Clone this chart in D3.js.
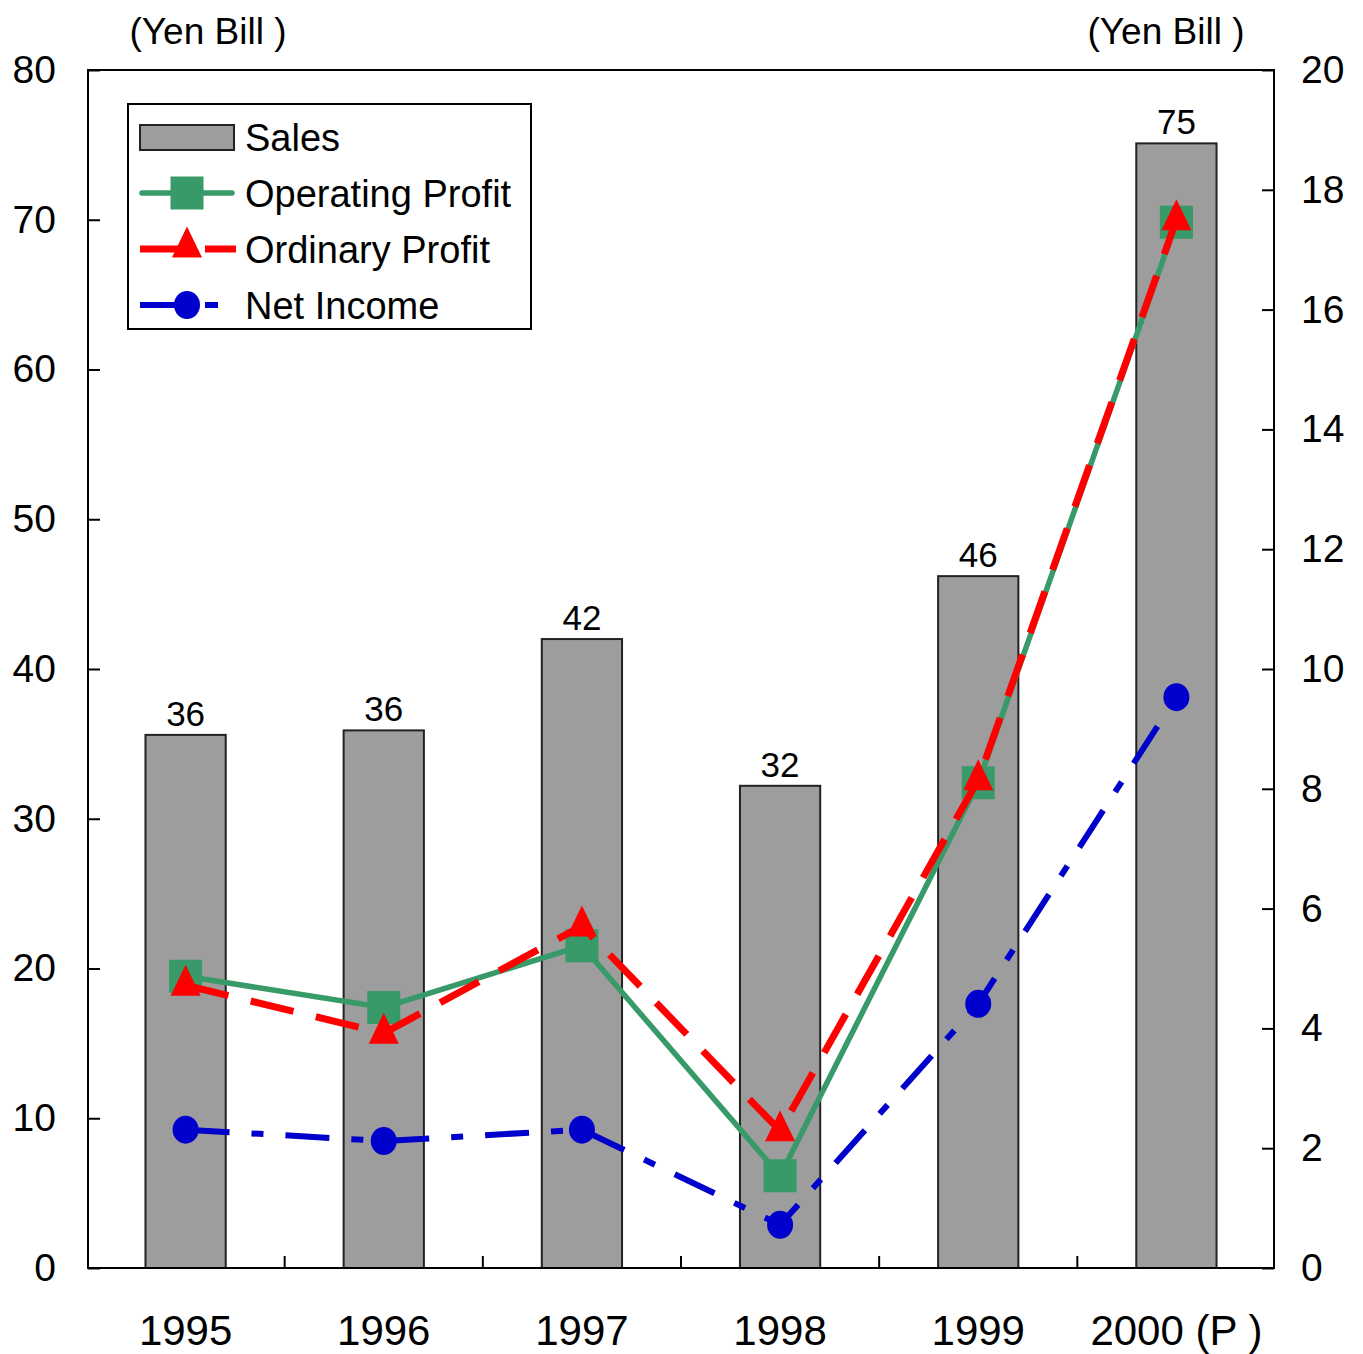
<!DOCTYPE html>
<html>
<head>
<meta charset="utf-8">
<script src="https://cdn.jsdelivr.net/npm/d3@7"></script>
<style>
  body { margin: 0; background: #fff; }
  svg { font-family: "Liberation Sans", Arial, sans-serif; }
  .axis path, .axis line { stroke: #000; stroke-width: 2; }
  .axis .domain { display: none; }
</style>
</head>
<body>
<svg width="1363" height="1354"></svg>
<script>
// values
var years = ["1995", "1996", "1997", "1998", "1999", "2000 (P )"];
var sales = [35.6, 35.9, 42.0, 32.2, 46.2, 75.1];          // left axis
var operatingProfit = [4.87, 4.35, 5.38, 1.54, 8.10, 17.46]; // right axis
var ordinaryProfit = [4.72, 3.92, 5.71, 2.29, 8.15, 17.5];
var netIncome = [2.31, 2.12, 2.31, 0.72, 4.41, 9.53];
var leftTicks = [0, 10, 20, 30, 40, 50, 60, 70, 80];
var rightTicks = [0, 2, 4, 6, 8, 10, 12, 14, 16, 18, 20];

var svg = d3.select("svg");
// plot box (note: "top" is taken by window.top)
var plotLeft = 88, plotRight = 1274, plotTop = 70, plotBottom = 1268;

var x = d3.scaleBand()
    .domain(years)
    .range([plotLeft, plotRight])
    .paddingInner(0.595)
    .paddingOuter(0.29);
var yL = d3.scaleLinear().domain([0, 80]).range([plotBottom, plotTop]);
var yR = d3.scaleLinear().domain([0, 20]).range([plotBottom, plotTop]);

var series = [
    {name: "Operating Profit", values: operatingProfit, color: "#379a68", width: 5.5, dash: null, marker: "square"},
    {name: "Ordinary Profit", values: ordinaryProfit, color: "#ff0000", width: 7, dash: "44,23", marker: "triangle"},
    {name: "Net Income", values: netIncome, color: "#0000cc", width: 6, dash: "44,22,12,22", marker: "circle"}
];

function markerPath(type) {
    if (type == "square") {
        return "M-16.5,-16.5h33v33h-33Z";
    }
    if (type == "triangle") {
        //taller than equilateral, like the original
        return "M0,-20.5L15,10.5L-15,10.5Z";
    }
    return null;
}

function drawMarker(g, type, color) {
    if (type == "circle") {
        g.append("ellipse").attr("rx", 13).attr("ry", 14).attr("fill", color);
    } else {
        g.append("path").attr("d", markerPath(type)).attr("fill", color);
    }
}

function cx(i) {
    return x(years[i]) + x.bandwidth() / 2;
}

// bars
svg.append("g").selectAll("rect")
    .data(sales)
    .enter().append("rect")
    .attr("x", (d, i) => x(years[i]))
    .attr("y", d => yL(d))
    .attr("width", x.bandwidth())
    .attr("height", d => plotBottom - yL(d))
    .attr("fill", "#9d9d9d")
    .attr("stroke", "#222")
    .attr("stroke-width", 2);

// bar value labels
svg.append("g").selectAll("text")
    .data(sales)
    .enter().append("text")
    .attr("x", (d, i) => cx(i))
    .attr("y", d => yL(d) - 9)
    .attr("text-anchor", "middle")
    .attr("font-size", 35)
    .text(d => d3.format(".0f")(d));

// frame
svg.append("rect")
    .attr("x", plotLeft).attr("y", plotTop)
    .attr("width", plotRight - plotLeft).attr("height", plotBottom - plotTop)
    .attr("fill", "none").attr("stroke", "#000").attr("stroke-width", 2);

// axes
svg.append("g")
    .attr("class", "axis")
    .attr("transform", "translate(" + plotLeft + ",0)")
    .call(d3.axisLeft(yL).tickValues(leftTicks).tickSizeInner(-12).tickSizeOuter(0).tickPadding(32))
    .selectAll("text").attr("font-size", 39).attr("fill", "#000");

svg.append("g")
    .attr("class", "axis")
    .attr("transform", "translate(" + plotRight + ",0)")
    .call(d3.axisRight(yR).tickValues(rightTicks).tickSizeInner(-12).tickSizeOuter(0).tickPadding(27))
    .selectAll("text").attr("font-size", 39).attr("fill", "#000");

svg.append("g")
    .attr("class", "axis")
    .attr("transform", "translate(0," + plotBottom + ")")
    .call(d3.axisBottom(x).tickSize(0).tickPadding(47))
    .selectAll("text").attr("font-size", 42).attr("fill", "#000");

// category separators on the x axis, pointing up
var step = x.step();
svg.append("g").selectAll("line")
    .data(years.slice(1))
    .enter().append("line")
    .attr("x1", d => x(d) - step * x.paddingInner() / 2)
    .attr("x2", d => x(d) - step * x.paddingInner() / 2)
    .attr("y1", plotBottom)
    .attr("y2", plotBottom - 12)
    .attr("stroke", "#000")
    .attr("stroke-width", 2);

// unit labels
svg.append("text").attr("x", 208).attr("y", 44).attr("text-anchor", "middle")
    .attr("font-size", 37).text("(Yen Bill )");
svg.append("text").attr("x", 1166).attr("y", 44).attr("text-anchor", "middle")
    .attr("font-size", 37).text("(Yen Bill )");

// lines + markers
var line = d3.line()
    .x((d, i) => cx(i))
    .y(d => yR(d));

series.forEach(function(s) {
    svg.append("path")
        .attr("d", line(s.values))
        .attr("fill", "none")
        .attr("stroke", s.color)
        .attr("stroke-width", s.width)
        .attr("stroke-dasharray", s.dash);
    s.values.forEach(function(v, i) {
        var g = svg.append("g")
            .attr("transform", "translate(" + cx(i) + "," + yR(v) + ")");
        drawMarker(g, s.marker, s.color);
    });
});

// legend
var legend = svg.append("g");
legend.append("rect")
    .attr("x", 128).attr("y", 104).attr("width", 403).attr("height", 225)
    .attr("fill", "#fff").attr("stroke", "#000").attr("stroke-width", 2);

var rowY = [137, 193, 249, 305];
legend.append("rect")
    .attr("x", 140).attr("y", 125).attr("width", 94).attr("height", 25)
    .attr("fill", "#9d9d9d").attr("stroke", "#222").attr("stroke-width", 2);
legend.append("text").attr("x", 245).attr("y", rowY[0] + 14)
    .attr("font-size", 38).text("Sales");

series.forEach(function(s, i) {
    var yy = rowY[i + 1];
    var g = legend.append("g");
    if (s.marker == "square") {
        g.append("line").attr("x1", 142).attr("x2", 232).attr("y1", yy).attr("y2", yy)
            .attr("stroke", s.color).attr("stroke-width", s.width).attr("stroke-linecap", "round");
    } else if (s.marker == "triangle") {
        g.append("line").attr("x1", 140).attr("x2", 180).attr("y1", yy).attr("y2", yy)
            .attr("stroke", s.color).attr("stroke-width", s.width);
        g.append("line").attr("x1", 205).attr("x2", 236).attr("y1", yy).attr("y2", yy)
            .attr("stroke", s.color).attr("stroke-width", s.width);
    } else {
        g.append("line").attr("x1", 140).attr("x2", 180).attr("y1", yy).attr("y2", yy)
            .attr("stroke", s.color).attr("stroke-width", s.width);
        g.append("line").attr("x1", 205).attr("x2", 218).attr("y1", yy).attr("y2", yy)
            .attr("stroke", s.color).attr("stroke-width", s.width);
    }
    var m = g.append("g").attr("transform", "translate(187," + (s.marker == "triangle" ? yy - 2 : yy) + ")");
    drawMarker(m, s.marker, s.color);
    legend.append("text").attr("x", 245).attr("y", yy + 14)
        .attr("font-size", 38).text(s.name);
});
</script>
</body>
</html>
